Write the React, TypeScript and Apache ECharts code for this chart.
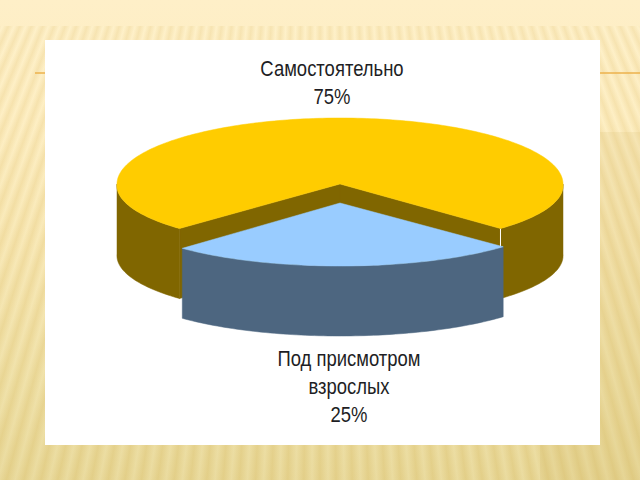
import React, { useEffect, useRef } from "react";
import * as echarts from "echarts";

const categories = ["Самостоятельно", "Под присмотром\nвзрослых"];
const values = [75, 25];
const topColors = ["#FFCC00", "#99CCFF"];
const wallColors = ["#806600", "#4D6680"];
const labelAnchors = [[332, 54], [349, 344]];
const explodeY = [0, 19];
const rotation = [0, Math.PI / 180];

const CX = 340, CY = 184, RX = 223, RY = 66, DEPTH = 70;

function project(theta: number, radius: number, dy: number): number[] {
  // theta: 0 towards the viewer, clockwise seen from above; near edge is slightly enlarged
  const s = Math.sin(theta), c = Math.cos(theta);
  const near = 1 + 0.025 * Math.max(0, c);
  const ry = c > 0 ? RY - 3 : RY;
  return [CX + RX * radius * s * near, CY + dy + ry * radius * c];
}
function arc(a0: number, a1: number, dy: number): number[][] {
  const n = Math.max(2, Math.ceil(Math.abs(a1 - a0) / 0.02));
  const out: number[][] = [];
  for (let i = 0; i <= n; i++) out.push(project(a0 + ((a1 - a0) * i) / n, 1, dy));
  return out;
}

function App() {
  const ref = useRef<HTMLDivElement>(null);
  useEffect(() => {
    document.body.style.margin = "0";
    const chart = echarts.init(ref.current!, undefined, { renderer: "svg" });
    const total = values.reduce((a, b) => a + b, 0);
    const spans = values.map((v) => (v / total) * Math.PI * 2);
    // blue slice centred towards the viewer, yellow takes the rest
    const ranges = [
      [spans[1] / 2 + rotation[0], spans[1] / 2 + spans[0] + rotation[0]],
      [-spans[1] / 2 + rotation[1], spans[1] / 2 + rotation[1]],
    ];
    chart.setOption({
      animation: false,
      backgroundColor: "transparent",
      graphic: [
        { type: "rect", z: -10, shape: { x: 45, y: 40, width: 555, height: 405 }, style: { fill: "#FFFFFF" } },
        { type: "line", z: -11, shape: { x1: 35, y1: 73, x2: 640, y2: 73 }, style: { stroke: "#EDB24C", lineWidth: 1.5 } },
      ],
      series: [
        {
          type: "custom",
          coordinateSystem: "none",
          data: values.map((v, i) => ({ value: v, name: categories[i] })),
          renderItem: (params: any) => {
            const i = params.dataIndex;
            const [a0, a1] = ranges[i];
            const dy = explodeY[i];
            const children: any[] = [];
            const poly = (points: number[][], fill: string) => ({
              type: "polygon",
              shape: { points },
              style: { fill, stroke: fill, lineWidth: 0.5 },
            });
            const apex = project(0, 0, dy);
            // inner walls are visible only for the yellow slice (notch)
            if (i === 0) {
              const a = project(a0, 1, dy), b = project(a1, 1, dy);
              children.push(poly([apex, a, [a[0], a[1] + DEPTH], [apex[0], apex[1] + DEPTH]], wallColors[i]));
              children.push(poly([apex, b, [b[0], b[1] + DEPTH], [apex[0], apex[1] + DEPTH]], wallColors[i]));
            }
            // outer wall on the near half of the rim
            const wallRanges: number[][] = i === 1
              ? [[a0, a1]]
              : [[a0, Math.PI / 2], [Math.PI * 1.5, a1]];
            wallRanges.forEach(([w0, w1]) => {
              const top = arc(w0, w1, dy);
              const bottom = arc(w1, w0, dy + DEPTH);
              children.push(poly(top.concat(bottom), wallColors[i]));
            });
            if (i === 0) {
              const a = project(a0, 1, dy);
              children.push({
                type: "line",
                shape: { x1: a[0], y1: a[1], x2: a[0], y2: a[1] + explodeY[1] },
                style: { stroke: "#FFFFFF", lineWidth: 1 },
              });
            }
            children.push(poly([apex, ...arc(a0, a1, dy)], topColors[i]));
            return { type: "group", children };
          },
        },
        {
          type: "custom",
          coordinateSystem: "none",
          z: 5,
          data: values.map((v, i) => ({ value: v, name: categories[i] })),
          renderItem: (params: any) => {
            const i = params.dataIndex;
            const [x, y] = labelAnchors[i];
            return {
              type: "text",
              x,
              y,
              scaleX: 0.84,
              style: {
                text: categories[i] + "\n" + values[i] + "%",
                fontFamily: "Liberation Sans",
                fontSize: 22,
                lineHeight: 28,
                fill: "#1E1E24",
                textAlign: "center",
                textVerticalAlign: "top",
              },
            };
          },
        },
      ],
    });
    return () => chart.dispose();
  }, []);
  return (
    <div
      style={{
        position: "relative",
        width: 640,
        height: 480,
        overflow: "hidden",
        background: "linear-gradient(180deg,#FEEFC8 0%,#FDECBF 25%,#F6E4AE 50%,#EADA9B 80%,#E2D18C 100%)",
      }}
    >
      <div
        style={{
          position: "absolute",
          left: 0,
          right: 0,
          top: 26,
          bottom: 0,
          background:
            "repeating-conic-gradient(from 0deg at 320px -700px,rgba(228,200,125,0.28) 0deg,rgba(255,246,210,0.28) 0.4deg,rgba(228,200,125,0.28) 0.8deg)",
        }}
      />
      <div
        style={{
          position: "absolute",
          left: 540,
          right: 0,
          top: 132,
          bottom: 0,
          background: "rgba(205,175,95,0.14)",
        }}
      />
      <div ref={ref} style={{ position: "absolute", left: 0, top: 0, width: 640, height: 480 }} />
    </div>
  );
}

export default App;
